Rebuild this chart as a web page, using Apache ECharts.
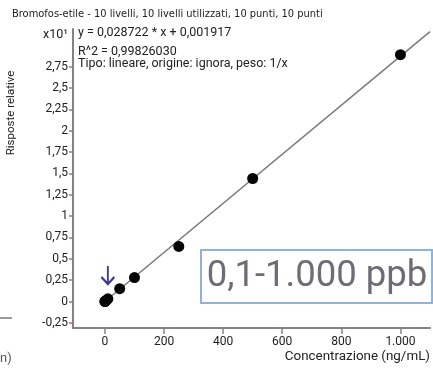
<!DOCTYPE html>
<html><head><meta charset="utf-8">
<script src="https://cdn.jsdelivr.net/npm/echarts@6/dist/echarts.min.js"></script>
<style>html,body{margin:0;padding:0;background:#fff}#c{width:433px;height:369px}</style>
</head><body><div id="c"></div>
<script>
// Data (responses in units of x10^1)
const concentrations = [0.1, 0.5, 1, 5, 10, 50, 100, 250, 500, 1000];
const responses = [0.0005, 0.0016, 0.003, 0.016, 0.031, 0.15, 0.28, 0.645, 1.44, 2.89];
const fitSlope = 0.0028722;      // per x10^1 unit
const fitIntercept = 0.0001917;
const fitRangeX = [0, 1100];
const xTickValues = [0, 200, 400, 600, 800, 1000];
const yTickValues = [-0.25, 0, 0.25, 0.5, 0.75, 1, 1.25, 1.5, 1.75, 2, 2.25, 2.5, 2.75];
const arrowAt = [10, 0.31];

const fmt = v => String(v).replace('.', ',');
const fmtX = v => v >= 1000 ? (v/1000) + '.' + String(v % 1000).padStart(3,'0') : String(v);

const chart = echarts.init(document.getElementById('c'), null, {renderer:'canvas'});
const F = 'Roboto, "Noto Sans", sans-serif';
chart.setOption({
  animation: false,
  grid: {left: 73, right: 3, top: 29, bottom: 41, containLabel: false},
  xAxis: {
    type: 'value', min: -108, max: 1100,
    splitLine: {show: false},
    axisLine: {show: true, onZero: false, lineStyle: {color: '#8a8082', width: 2}},
    axisTick: {show: true, customValues: xTickValues, length: 6, lineStyle: {color: '#8a8082', width: 1.5}},
    axisLabel: {customValues: xTickValues, formatter: fmtX, color: '#222', fontSize: 12, fontFamily: F, margin: 8}
  },
  yAxis: {
    type: 'value', min: -0.31, max: 3.19,
    splitLine: {show: false},
    axisLine: {show: true, onZero: false, lineStyle: {color: '#8a8082', width: 2}},
    axisTick: {show: true, customValues: yTickValues, length: 4, lineStyle: {color: '#8a8082', width: 1.5}},
    axisLabel: {customValues: yTickValues, formatter: fmt, color: '#222', fontSize: 12, fontFamily: F, margin: 5, padding: [0,0,6,0]}
  },
  series: [
    {
      type: 'line',
      data: fitRangeX.map(x => [x, fitSlope * x + fitIntercept]),
      showSymbol: false, symbol: 'none',
      lineStyle: {color: '#7a7a7a', width: 1.5},
      z: 2
    },
    {
      type: 'scatter',
      data: concentrations.map((c, i) => [c, responses[i]]),
      symbolSize: 11,
      itemStyle: {color: '#050505', opacity: 1},
      z: 3,
      markPoint: {
        symbol: 'path://M5,0 L5,18 M0,11 L5,18 L10,11',
        symbolSize: [13, 18],
        itemStyle: {color: 'none', borderColor: '#3d3c8e', borderWidth: 2.2},
        label: {show: false},
        data: [{coord: arrowAt}]
      }
    }
  ],
  graphic: [
    {type: 'text', left: 12, top: 9, style: {text: 'Bromofos-etile - 10 livelli, 10 livelli utilizzati, 10 punti, 10 punti', fill: '#222', font: '11px "Liberation Sans Narrow", "DejaVu Sans Condensed", Roboto, sans-serif'}},
    {type: 'text', left: 43, top: 28, style: {text: 'x10¹', fill: '#222', font: '12.5px Roboto, sans-serif'}},
    {type: 'text', left: 78, top: 26, style: {text: 'y = 0,028722 * x + 0,001917', fill: '#222', font: '12.5px Roboto, sans-serif'}},
    {type: 'text', left: 78, top: 45, style: {text: 'R^2 = 0,99826030', fill: '#222', font: '12.5px Roboto, sans-serif'}},
    {type: 'text', left: 78, top: 57, style: {text: 'Tipo: lineare, origine: ignora, peso: 1/x', fill: '#222', font: '12.5px Roboto, sans-serif'}},
    {type: 'text', x: 11, y: 113, rotation: Math.PI/2, style: {text: 'Risposte relative', fill: '#222', font: '11.5px Roboto, sans-serif', align: 'center', verticalAlign: 'middle'}},
    {type: 'text', right: 3, top: 350, style: {text: 'Concentrazione (ng/mL)', fill: '#222', font: '13.4px Roboto, sans-serif'}},
    {type: 'group', left: 200, top: 249, children: [
      {type: 'rect', shape: {x: 0, y: 0, width: 231, height: 53}, style: {fill: '#fff', stroke: '#8fb1da', lineWidth: 2}},
      {type: 'text', x: 116, y: 27, style: {text: '0,1-1.000 ppb', fill: '#6c6d77', font: '36.5px Roboto, sans-serif', align: 'center', verticalAlign: 'middle'}}
    ]},
    {type: 'rect', left: 0, top: 317, shape: {width: 12, height: 2}, style: {fill: '#9a9a9a'}},
    {type: 'text', left: 0, top: 352, style: {text: 'n)', fill: '#555', font: '13px Roboto, sans-serif'}}
  ]
});
</script></body></html>
